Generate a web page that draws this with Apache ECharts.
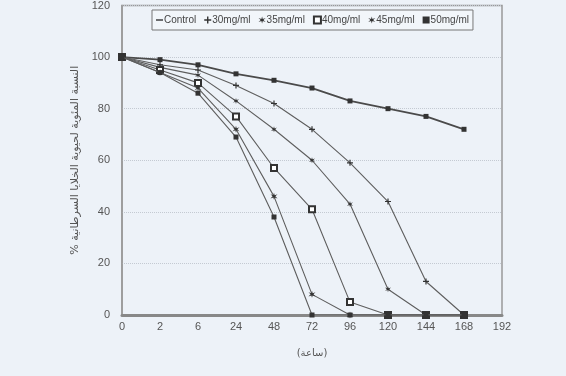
<!DOCTYPE html>
<html>
<head>
<meta charset="utf-8">
<script src="https://cdn.jsdelivr.net/npm/echarts@6/dist/echarts.min.js"></script>
<style>html,body{margin:0;padding:0;background:#edf2f8;}#c{width:566px;height:376px;}</style>
</head>
<body>
<div id="c"></div>
<script>
const hours = ['0','2','6','24','48','72','96','120','144','168','192'];
const yTicks = [0, 20, 40, 60, 80, 100, 120];
const seriesNames = ['Control','30mg/ml','35mg/ml','40mg/ml','45mg/ml','50mg/ml'];
const control = [100, 99, 97, 93.5, 91, 88, 83, 80, 77, 72];
const mg30 = [100, 97, 95, 89, 82, 72, 59, 44, 13, 0];
const mg35 = [100, 96, 93, 83, 72, 60, 43, 10, 0, 0];
const mg40 = [100, 95, 90, 77, 57, 41, 5, 0, 0, 0];
const mg45 = [100, 94, 88, 72, 46, 8, 0, 0, 0, 0];
const mg50 = [100, 94, 86, 69, 38, 0, 0, 0, 0, 0];
const xTitle = '(ساعة)';
const yTitle = '% النسبة المئوية لحيوية الخلايا السرطانية';

const FONT = '"Liberation Sans Narrow","Liberation Sans",sans-serif';
const dashPath = 'path://M0,4H10V6H0Z';
const plusPath = 'path://M4,0H6V4H10V6H6V10H4V6H0V4H4Z';
const starPath = 'path://M5,0L6,3.5L10,2L7,5L10,8L6,6.5L5,10L4,6.5L0,8L3,5L0,2L4,3.5Z';
const symbols = [[dashPath,[5,5]], [plusPath,6], [starPath,6], ['emptyRect',6], [starPath,7], ['rect',5]];
const datas = [control, mg30, mg35, mg40, mg45, mg50];

const chart = echarts.init(document.getElementById('c'));
chart.setOption({
  backgroundColor: '#edf2f8',
  animation: false,
  textStyle: { fontFamily: FONT },
  legend: {
    left: 152, top: 10,
    padding: [5, 4, 5, 4],
    borderColor: '#777', borderWidth: 1,
    backgroundColor: '#f2f6fa',
    itemWidth: 7, itemHeight: 7, itemGap: 8,
    data: seriesNames.map((n, i) => ({ name: n, icon: symbols[i][0] })),
    textStyle: { fontFamily: FONT, fontSize: 10, color: '#444', padding: [0,0,0,-4] }
  },
  grid: { left: 122, right: 64, top: 2, bottom: 61, show: true, borderColor: '#999', borderWidth: 1.5, backgroundColor: 'transparent' },
  xAxis: {
    type: 'category', data: hours, boundaryGap: false,
    axisLine: { lineStyle: { color: '#888', width: 3 } },
    axisTick: { show: false },
    axisLabel: { color: '#555', fontSize: 11, fontFamily: FONT, margin: 6 },
    name: xTitle, nameLocation: 'middle', nameGap: 33,
    nameTextStyle: { color: '#555', fontSize: 10, fontFamily: 'DejaVu Sans' }
  },
  yAxis: {
    type: 'value', min: 0, max: 120, interval: 20,
    axisLine: { show: true, lineStyle: { color: '#999', width: 1.5 } },
    axisTick: { show: false },
    axisLabel: { color: '#555', fontSize: 11, fontFamily: FONT, margin: 12,
      formatter: v => yTicks.includes(v) ? String(v) : '' },
    splitLine: { show: true, lineStyle: { color: '#c4cad2', type: 'dotted', width: 1 } },
    name: yTitle, nameLocation: 'middle', nameGap: 40, nameRotate: 90,
    nameTextStyle: { color: '#555', fontSize: 11, fontFamily: 'DejaVu Sans', padding: [0,0,0,0] }
  },
  series: datas.map((d, i) => ({
    name: seriesNames[i], type: 'line', data: d,
    symbol: symbols[i][0], symbolSize: symbols[i][1], showSymbol: true,
    lineStyle: { color: i === 0 ? '#4a4a4a' : '#5e5e5e', width: i === 0 ? 1.8 : 1.1 },
    itemStyle: { color: '#333', borderColor: '#333', borderWidth: i === 3 ? 1 : 0 },
    z: 2 + i
  }))
});
</script>
</body>
</html>
